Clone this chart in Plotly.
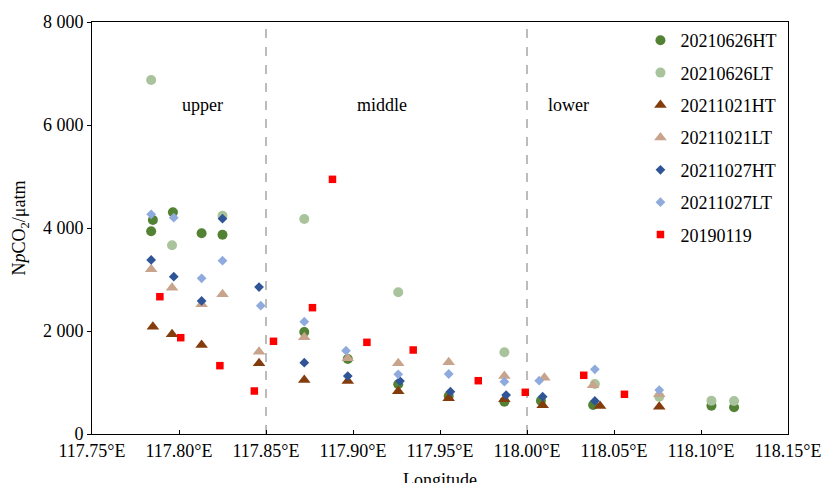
import plotly.graph_objects as go

# ---- data (longitude, NpCO2 in uatm) ----
hT0626_lon = [117.785, 117.784, 117.7965, 117.813, 117.825, 117.872, 117.897, 117.926, 117.955, 117.987, 118.008, 118.038, 118.106, 118.119]
hT0626_val = [4155, 3936, 4305, 3897, 3870, 1981, 1456, 965, 738, 627, 647, 563, 550, 518]

lT0626_lon = [117.784, 117.796, 117.825, 117.872, 117.926, 117.987, 118.039, 118.076, 118.106, 118.119]
lT0626_val = [6874, 3664, 4239, 4175, 2751, 1586, 971, 724, 647, 641]

hT1021_lon = [117.785, 117.796, 117.813, 117.846, 117.872, 117.897, 117.926, 117.955, 117.987, 118.009, 118.042, 118.076]
hT1021_val = [2084, 1935, 1728, 1372, 1049, 1029, 829, 693, 674, 557, 544, 530]

lT1021_lon = [117.784, 117.796, 117.813, 117.825, 117.846, 117.872, 117.897, 117.926, 117.955, 117.987, 118.010, 118.038, 118.076]
lT1021_val = [3198, 2841, 2518, 2713, 1599, 1877, 1470, 1372, 1392, 1126, 1093, 946, 771]

hT1027_lon = [117.784, 117.797, 117.813, 117.825, 117.846, 117.872, 117.897, 117.927, 117.956, 117.988, 118.009, 118.039]
hT1027_val = [3379, 3054, 2583, 4180, 2854, 1385, 1126, 1029, 822, 757, 724, 641]

lT1027_lon = [117.784, 117.797, 117.813, 117.825, 117.847, 117.872, 117.896, 117.926, 117.955, 117.987, 118.007, 118.039, 118.076]
lT1027_val = [4266, 4200, 3023, 3365, 2491, 2181, 1618, 1159, 1165, 1016, 1035, 1256, 854]

d0119_lon = [117.789, 117.801, 117.8235, 117.8433, 117.8543, 117.8767, 117.8882, 117.908, 117.9346, 117.972, 117.999, 118.0326, 118.056]
d0119_val = [2666, 1870, 1327, 835, 1800, 2453, 4945, 1780, 1631, 1035, 810, 1140, 771]

series_names = ["20210626HT", "20210626LT", "20211021HT", "20211021LT", "20211027HT", "20211027LT", "20190119"]

section_labels = ["upper", "middle", "lower"]
section_label_x = [117.8136, 117.9167, 118.0237]
section_label_y = 6390
boundaries = [117.85, 118.00]

x_ticks = [117.75, 117.80, 117.85, 117.90, 117.95, 118.00, 118.05, 118.10, 118.15]
x_tick_text = ["117.75°E", "117.80°E", "117.85°E", "117.90°E", "117.95°E", "118.00°E", "118.05°E", "118.10°E", "118.15°E"]
y_ticks = [0, 2000, 4000, 6000, 8000]
y_tick_text = ["0", "2 000", "4 000", "6 000", "8 000"]

FONT = "Times New Roman, Liberation Serif, DejaVu Serif, serif"

styles = [
    dict(symbol="circle", color="#548235", size=10),
    dict(symbol="circle", color="#a9c49c", size=10),
    dict(symbol="triangle-up", color="#843c0c", size=11),
    dict(symbol="triangle-up", color="#c9a48d", size=11),
    dict(symbol="diamond", color="#2f5597", size=7.5),
    dict(symbol="diamond", color="#8faadc", size=7.5),
    dict(symbol="square", color="#ff0000", size=7.5),
]
xs = [hT0626_lon, lT0626_lon, hT1021_lon, lT1021_lon, hT1027_lon, lT1027_lon, d0119_lon]
ys = [hT0626_val, lT0626_val, hT1021_val, lT1021_val, hT1027_val, lT1027_val, d0119_val]

fig = go.Figure()
for i, (name, st) in enumerate(zip(series_names, styles)):
    fig.add_trace(go.Scatter(
        x=xs[i], y=ys[i], mode="markers", name=name, legendgroup=name,
        marker=dict(symbol=st["symbol"], color=st["color"], size=st["size"], line=dict(width=0)),
    ))

for b in boundaries:
    fig.add_shape(type="line", xref="x", yref="paper", x0=b, x1=b, y0=0, y1=1,
                  line=dict(color="#a6a6a6", width=1.5, dash="dash"), layer="below")

for t, x in zip(section_labels, section_label_x):
    fig.add_annotation(x=x, y=section_label_y, xref="x", yref="y", text=t, showarrow=False,
                       font=dict(family=FONT, size=18, color="black"))

# x-axis title placed as an annotation just below the tick labels
fig.add_annotation(x=0.5, y=0, xref="paper", yref="paper", text="Longitude", showarrow=False,
                   yanchor="top", yshift=-34, font=dict(family=FONT, size=18, color="black"))

fig.update_layout(
    width=825, height=483,
    margin=dict(l=92, r=37, t=22, b=49, autoexpand=False),
    paper_bgcolor="white", plot_bgcolor="white",
    font=dict(family=FONT, size=18, color="black"),
    showlegend=True,
    legend=dict(x=0.788, xanchor="left", y=1, yanchor="top", bgcolor="rgba(0,0,0,0)",
                traceorder="grouped", tracegroupgap=6, font=dict(family=FONT, size=18),
                itemwidth=30),
    xaxis=dict(range=[117.75, 118.15], tickvals=x_ticks, ticktext=x_tick_text, automargin=False,
               ticks="inside", ticklen=4, tickcolor="black", showline=True, linecolor="black",
               linewidth=1, mirror=True, showgrid=False, zeroline=False,
               tickfont=dict(family=FONT, size=18)),
    yaxis=dict(range=[0, 8000], tickvals=y_ticks, ticktext=y_tick_text, automargin=False,
               ticks="outside", ticklen=4, tickcolor="black", showline=True, linecolor="black",
               linewidth=1, mirror=True, showgrid=False, zeroline=False,
               tickfont=dict(family=FONT, size=18),
               title=dict(text="N<i>p</i>CO<sub>2</sub>/μatm", standoff=12, font=dict(family=FONT, size=18))),
)

fig.write_html("out.html")
